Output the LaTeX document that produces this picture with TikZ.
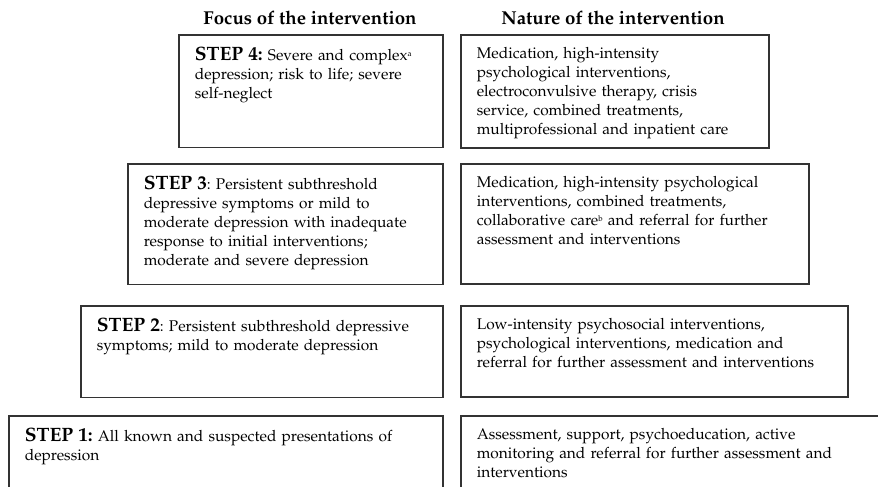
\documentclass[tikz,border=0pt]{standalone}
\usepackage[T1]{fontenc}
\usepackage{mathpazo}
\newcommand{\stepno}[1]{{\fontsize{14.5}{14}\selectfont\bfseries STEP #1}}
\newcommand{\fnmark}[1]{\raisebox{3.2pt}{\fontsize{6}{6}\selectfont #1}}
\frenchspacing
\begin{document}
\begin{tikzpicture}[x=0.75pt,y=-0.75pt]

 \tikzset{
    head/.style={font=\fontsize{14}{16}\selectfont\bfseries},
    focus/.style={draw=black!80, line width=1.2pt, anchor=north west,
      align=left, inner xsep=12pt, inner ysep=0pt, text height=19.5pt,
      font=\fontsize{11.6}{14.25}\selectfont},
    nature/.style={focus, text height=18pt},
  }

  \useasboundingbox (0,0) rectangle (878,486);
  \clip (0,0) rectangle (878,486);

  % column heads
  \node[head] (focushead) at (310,18) {Focus of the intervention};
  \node[head] (naturehead) at (613,18) {Nature of the intervention};

  % step 4
  \node[focus, text width=174pt, text depth=65pt] (s4focus) at (178,34)
    {\stepno{4:} Severe and complex\fnmark{a}\\
     depression; risk to life; severe\\
     self-neglect};
  \node[nature, text width=207pt, text depth=66.75pt] (s4nature) at (460,34)
    {Medication, high-intensity\\
     psychological interventions,\\
     electroconvulsive therapy, crisis\\
     service, combined treatments,\\
     multiprofessional and inpatient care};

  % step 3
  \node[focus, text width=212.25pt, text depth=71pt] (s3focus) at (127,163)
    {\stepno{3}: Persistent subthreshold\\
     depressive symptoms or mild to\\
     moderate depression with inadequate\\
     response to initial interventions;\\
     moderate and severe depression};
  \node[nature, text width=237pt, text depth=72pt] (s3nature) at (460,163)
    {Medication, high-intensity psychological\\
     interventions, combined treatments,\\
     collaborative care\fnmark{b} and referral for further\\
     assessment and interventions};

  % step 2
  \node[focus, text width=247.5pt, text depth=49.25pt] (s2focus) at (80,305)
    {\stepno{2}: Persistent subthreshold depressive\\
     symptoms; mild to moderate depression};
  \node[nature, text width=266.25pt, text depth=50.25pt] (s2nature) at (460,305)
    {Low-intensity psychosocial interventions,\\
     psychological interventions, medication and\\
     referral for further assessment and interventions};

  % step 1 (runs off the page)
  \node[focus, text width=301.5pt, text depth=44.75pt] (s1focus) at (8,415)
    {\stepno{1:} All known and suspected presentations of\\
     depression};
  \node[nature, text width=306pt, text depth=45.75pt] (s1nature) at (460,415)
    {Assessment, support, psychoeducation, active\\
     monitoring and referral for further assessment and\\
     interventions};

\end{tikzpicture}
\end{document}
